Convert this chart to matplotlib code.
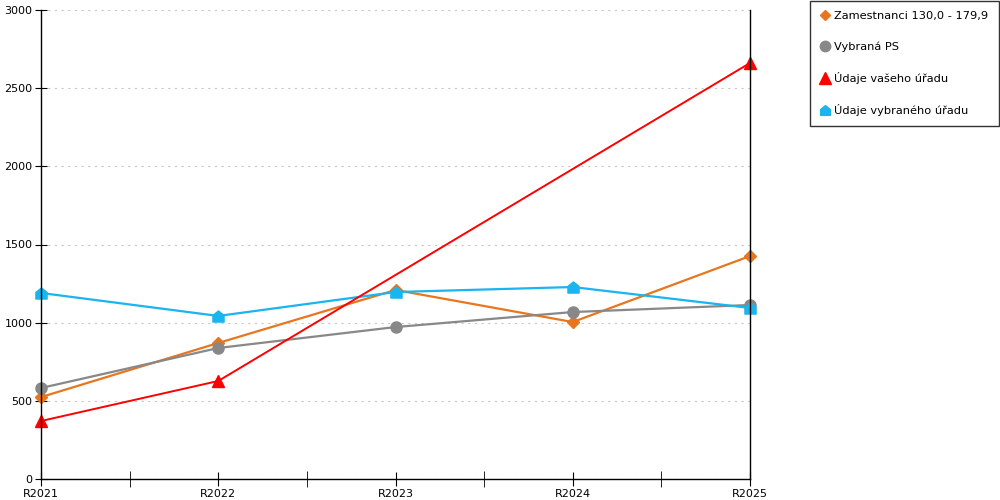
import matplotlib
matplotlib.use("Agg")
import matplotlib.pyplot as plt
from matplotlib.path import Path
import numpy as np

years = ["R2021", "R2022", "R2023", "R2024", "R2025"]

zamestnanci = [524, 870, 1209, 1004, 1426]
vybrana_ps = [582, 838, 972, 1068, 1113]
# vas urad: values only for R2021, R2022 and R2025
vas_urad_idx = [0, 1, 4]
vas_urad = [371, 627, 2661]
vybrany_urad = [1190, 1043, 1196, 1228, 1094]

labels = ["Zamestnanci 130,0 - 179,9", "Vybraná PS",
          "Údaje vašeho úřadu", "Údaje vybraného úřadu"]

# house shaped marker
house = Path([(-1, -1), (1, -1), (1, 0.2), (0, 1), (-1, 0.2), (-1, -1)],
             [Path.MOVETO, Path.LINETO, Path.LINETO, Path.LINETO,
              Path.LINETO, Path.CLOSEPOLY])

plt.rcParams['font.family'] = ['DejaVu Sans']

fig = plt.figure(figsize=(10, 5), dpi=100)
ax = fig.add_axes([0.041, 0.042, 0.709, 0.938])

x = np.arange(len(years))
ax.plot(x, zamestnanci, color="#E8761E", lw=1.6, marker="D", ms=6,
        label=labels[0], zorder=3, clip_on=False)
ax.plot(x, vybrana_ps, color="#888888", lw=1.6, marker="o", ms=8,
        label=labels[1], zorder=3, clip_on=False)
ax.plot(vas_urad_idx, vas_urad, color="#FF0000", lw=1.4, marker="^", ms=9,
        label=labels[2], zorder=4, clip_on=False)
ax.plot(x, vybrany_urad, color="#1AB4EE", lw=1.6, marker=house, ms=8,
        label=labels[3], zorder=3, clip_on=False)

ax.set_xlim(0, 4)
ax.set_ylim(0, 3000)
ax.set_yticks(np.arange(0, 3001, 500))
ax.set_xticks(x)
ax.set_xticklabels(years)
ax.set_xticks(np.arange(0.5, 4, 1), minor=True)
ax.yaxis.grid(True, color="#C8C8C8", linestyle=(0, (2, 4)), lw=0.8)
ax.set_axisbelow(True)

ax.spines["top"].set_visible(False)
for s in ["left", "bottom", "right"]:
    ax.spines[s].set_color("black")
    ax.spines[s].set_linewidth(1.0)
    ax.spines[s].set_zorder(5)

ax.tick_params(axis="y", direction="inout", length=8, labelsize=8, pad=2)
ax.tick_params(axis="x", which="both", direction="inout", length=10,
               labelsize=8, pad=2)
ax.tick_params(axis="x", which="minor", length=12)

leg = fig.legend(loc="upper right", bbox_to_anchor=(0.999, 0.999),
                 fontsize=8.2, frameon=True, fancybox=False,
                 edgecolor="black", borderpad=0.95, labelspacing=1.75,
                 handlelength=0.7, handletextpad=0.45, borderaxespad=0)
leg.get_frame().set_linewidth(1.0)
for h, ms in zip(leg.get_lines(), [5.5, 7.5, 8, 7]):
    h.set_linestyle("none")
    h.set_markersize(ms)

fig.savefig("out.png", dpi=100)
